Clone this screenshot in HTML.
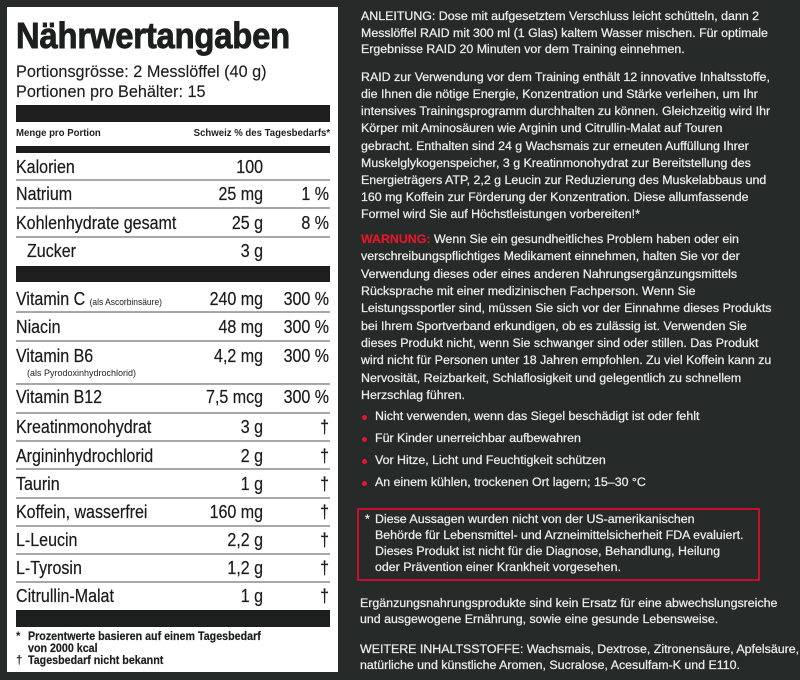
<!DOCTYPE html>
<html>
<head>
<meta charset="utf-8">
<style>
*{margin:0;padding:0;box-sizing:border-box;}
html,body{width:800px;height:680px;overflow:hidden;background:#262a29;}
body{position:relative;font-family:"Liberation Sans",sans-serif;}
.abs{position:absolute;white-space:nowrap;}
#panel{position:absolute;left:7px;top:7px;width:331px;height:665px;background:#fff;}
.bar{position:absolute;left:16px;width:314px;background:#1d1f1f;}
.div{position:absolute;left:16px;width:314px;height:2px;background:#a8a8a8;}
.row{position:absolute;left:16px;width:314px;height:20px;font-size:18px;line-height:20px;color:#1a1a1a;-webkit-text-stroke:0.2px #1a1a1a;}
.row span{white-space:nowrap;}
.row .n{position:absolute;left:0;top:0;transform:scaleX(0.89);transform-origin:left top;}
.row .a{position:absolute;right:67px;top:0;transform:scaleX(0.89);transform-origin:right top;}
.row .p{position:absolute;right:1px;top:0;transform:scaleX(0.89);transform-origin:right top;}
.small{font-size:9.5px;-webkit-text-stroke:0;}
.rt{position:absolute;left:361px;color:#ececec;font-size:12.4px;white-space:nowrap;-webkit-text-stroke:0.25px #ececec;}
.dot{position:absolute;left:362px;width:5px;height:5px;border-radius:50%;background:#e3172d;}
</style>
</head>
<body>
<div id="panel"></div>

<div class="abs" style="left:16px;top:17.5px;font-size:36px;line-height:36px;font-weight:bold;color:#1d1f1f;transform:scaleX(0.91);transform-origin:left top;-webkit-text-stroke:0.9px #1d1f1f;letter-spacing:-0.2px;">Nährwertangaben</div>

<div class="abs" style="left:16px;top:61.5px;font-size:17px;line-height:20px;color:#1d1f1f;transform:scaleX(0.955);transform-origin:left top;-webkit-text-stroke:0.15px #1d1f1f;">Portionsgrösse: 2 Messlöffel (40 g)<br>Portionen pro Behälter: 15</div>

<div class="bar" style="top:105px;height:17px;"></div>
<div class="abs" style="left:16px;top:127.5px;font-size:10px;line-height:12px;font-weight:bold;color:#1d1f1f;transform:scaleX(0.96);transform-origin:left top;">Menge pro Portion</div>
<div class="abs" style="right:470px;top:127.5px;font-size:10px;line-height:12px;font-weight:bold;color:#1d1f1f;transform:scaleX(0.96);transform-origin:right top;">Schweiz % des Tagesbedarfs*</div>
<div class="bar" style="top:146px;height:7px;"></div>

<div class="row" style="top:156.8px;"><span class="n">Kalorien</span><span class="a">100</span></div>
<div class="div" style="top:179px;"></div>
<div class="row" style="top:183.8px;"><span class="n">Natrium</span><span class="a">25 mg</span><span class="p">1 %</span></div>
<div class="div" style="top:207px;"></div>
<div class="row" style="top:212.8px;"><span class="n">Kohlenhydrate gesamt</span><span class="a">25 g</span><span class="p">8 %</span></div>
<div class="div" style="top:236px;"></div>
<div class="row" style="top:240.8px;"><span class="n" style="left:11px;">Zucker</span><span class="a">3 g</span></div>

<div class="bar" style="top:266px;height:16px;"></div>

<div class="row" style="top:288.8px;"><span class="n">Vitamin C <span class="small">(als Ascorbinsäure)</span></span><span class="a">240 mg</span><span class="p">300 %</span></div>
<div class="div" style="top:311px;"></div>
<div class="row" style="top:316.8px;"><span class="n">Niacin</span><span class="a">48 mg</span><span class="p">300 %</span></div>
<div class="div" style="top:340px;"></div>
<div class="row" style="top:345.8px;"><span class="n">Vitamin B6</span><span class="a">4,2 mg</span><span class="p">300 %</span></div>
<div class="abs" style="left:27px;top:367.5px;font-size:9px;line-height:11px;color:#1d1f1f;">(als Pyrodoxinhydrochlorid)</div>
<div class="div" style="top:383px;"></div>
<div class="row" style="top:386.8px;"><span class="n">Vitamin B12</span><span class="a">7,5 mcg</span><span class="p">300 %</span></div>
<div class="div" style="top:412px;"></div>
<div class="row" style="top:416.8px;"><span class="n">Kreatinmonohydrat</span><span class="a">3 g</span><span class="p">†</span></div>
<div class="div" style="top:440px;"></div>
<div class="row" style="top:445.8px;"><span class="n">Argininhydrochlorid</span><span class="a">2 g</span><span class="p">†</span></div>
<div class="div" style="top:468px;"></div>
<div class="row" style="top:473.8px;"><span class="n">Taurin</span><span class="a">1 g</span><span class="p">†</span></div>
<div class="div" style="top:497px;"></div>
<div class="row" style="top:501.8px;"><span class="n">Koffein, wasserfrei</span><span class="a">160 mg</span><span class="p">†</span></div>
<div class="div" style="top:525px;"></div>
<div class="row" style="top:529.8px;"><span class="n">L-Leucin</span><span class="a">2,2 g</span><span class="p">†</span></div>
<div class="div" style="top:553px;"></div>
<div class="row" style="top:557.8px;"><span class="n">L-Tyrosin</span><span class="a">1,2 g</span><span class="p">†</span></div>
<div class="div" style="top:581px;"></div>
<div class="row" style="top:585.8px;"><span class="n">Citrullin-Malat</span><span class="a">1 g</span><span class="p">†</span></div>

<div class="bar" style="top:610px;height:17px;"></div>

<div class="abs" style="left:16px;top:631px;font-size:11.5px;line-height:12px;font-weight:bold;color:#1d1f1f;">*</div>
<div class="abs" style="left:28px;top:631px;font-size:11.5px;line-height:12px;font-weight:bold;color:#1d1f1f;transform:scaleX(0.93);transform-origin:left top;-webkit-text-stroke:0.2px #1d1f1f;">Prozentwerte basieren auf einem Tagesbedarf<br>von 2000 kcal</div>
<div class="abs" style="left:16px;top:655px;font-size:11.5px;line-height:12px;font-weight:bold;color:#1d1f1f;">†</div>
<div class="abs" style="left:28px;top:655px;font-size:11.5px;line-height:12px;font-weight:bold;color:#1d1f1f;transform:scaleX(0.93);transform-origin:left top;-webkit-text-stroke:0.2px #1d1f1f;">Tagesbedarf nicht bekannt</div>

<!-- Right column -->
<div class="rt" style="top:8px;line-height:16.5px;">ANLEITUNG: Dose mit aufgesetztem Verschluss leicht schütteln, dann 2<br>Messlöffel RAID mit 300 ml (1 Glas) kaltem Wasser mischen. Für optimale<br>Ergebnisse RAID 20 Minuten vor dem Training einnehmen.</div>

<div class="rt" style="top:69.2px;line-height:17.1px;">RAID zur Verwendung vor dem Training enthält 12 innovative Inhaltsstoffe,<br>die Ihnen die nötige Energie, Konzentration und Stärke verleihen, um Ihr<br>intensives Trainingsprogramm durchhalten zu können. Gleichzeitig wird Ihr<br>Körper mit Aminosäuren wie Arginin und Citrullin-Malat auf Touren<br>gebracht. Enthalten sind 24 g Wachsmais zur erneuten Auffüllung Ihrer<br>Muskelglykogenspeicher, 3 g Kreatinmonohydrat zur Bereitstellung des<br>Energieträgers ATP, 2,2 g Leucin zur Reduzierung des Muskelabbaus und<br>160 mg Koffein zur Förderung der Konzentration. Diese allumfassende<br>Formel wird Sie auf Höchstleistungen vorbereiten!*</div>

<div class="rt" style="top:231px;line-height:17.33px;"><b style="color:#e3172d;-webkit-text-stroke:0.2px #e3172d;">WARNUNG:</b> Wenn Sie ein gesundheitliches Problem haben oder ein<br>verschreibungspflichtiges Medikament einnehmen, halten Sie vor der<br>Verwendung dieses oder eines anderen Nahrungsergänzungsmittels<br>Rücksprache mit einer medizinischen Fachperson. Wenn Sie<br>Leistungssportler sind, müssen Sie sich vor der Einnahme dieses Produkts<br>bei Ihrem Sportverband erkundigen, ob es zulässig ist. Verwenden Sie<br>dieses Produkt nicht, wenn Sie schwanger sind oder stillen. Das Produkt<br>wird nicht für Personen unter 18 Jahren empfohlen. Zu viel Koffein kann zu<br>Nervosität, Reizbarkeit, Schlaflosigkeit und gelegentlich zu schnellem<br>Herzschlag führen.</div>

<div class="dot" style="top:415px;"></div>
<div class="rt" style="left:375px;top:408px;line-height:17px;">Nicht verwenden, wenn das Siegel beschädigt ist oder fehlt</div>
<div class="dot" style="top:436.5px;"></div>
<div class="rt" style="left:375px;top:429.5px;line-height:17px;">Für Kinder unerreichbar aufbewahren</div>
<div class="dot" style="top:458.5px;"></div>
<div class="rt" style="left:375px;top:451.5px;line-height:17px;">Vor Hitze, Licht und Feuchtigkeit schützen</div>
<div class="dot" style="top:481px;"></div>
<div class="rt" style="left:375px;top:474px;line-height:17px;">An einem kühlen, trockenen Ort lagern; 15–30 °C</div>

<div style="position:absolute;left:357px;top:508px;width:403px;height:73px;border:2px solid #c8102e;"></div>
<div class="rt" style="left:365px;top:510.7px;line-height:16px;">*</div>
<div class="rt" style="left:375px;top:510.7px;line-height:16px;">Diese Aussagen wurden nicht von der US-amerikanischen<br>Behörde für Lebensmittel- und Arzneimittelsicherheit FDA evaluiert.<br>Dieses Produkt ist nicht für die Diagnose, Behandlung, Heilung<br>oder Prävention einer Krankheit vorgesehen.</div>

<div class="rt" style="left:360px;top:594.7px;line-height:16px;">Ergänzungsnahrungsprodukte sind kein Ersatz für eine abwechslungsreiche<br>und ausgewogene Ernährung, sowie eine gesunde Lebensweise.</div>

<div class="rt" style="left:360px;top:640.7px;line-height:16px;">WEITERE INHALTSSTOFFE: Wachsmais, Dextrose, Zitronensäure, Apfelsäure,<br>natürliche und künstliche Aromen, Sucralose, Acesulfam-K und E110.</div>

</body>
</html>
